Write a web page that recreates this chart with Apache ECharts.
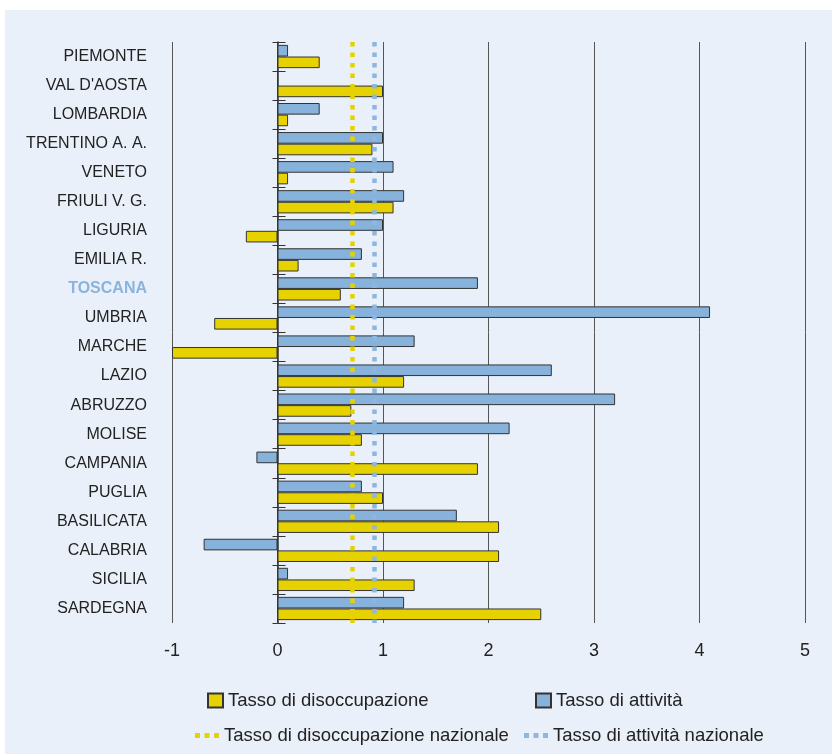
<!DOCTYPE html>
<html>
<head>
<meta charset="utf-8">
<script src="https://cdn.jsdelivr.net/npm/echarts@6/dist/echarts.min.js"></script>
<style>
  html, body { margin: 0; padding: 0; background: #fff; }
  #chart { position: absolute; left: 5px; top: 10px; width: 827px; height: 744px; }
</style>
</head>
<body>
<div id="chart"></div>
<script>
// regioni, dall'alto in basso
const regioni = ['PIEMONTE', "VAL D'AOSTA", 'LOMBARDIA', 'TRENTINO A. A.', 'VENETO', 'FRIULI V. G.',
  'LIGURIA', 'EMILIA R.', 'TOSCANA', 'UMBRIA', 'MARCHE', 'LAZIO', 'ABRUZZO', 'MOLISE',
  'CAMPANIA', 'PUGLIA', 'BASILICATA', 'CALABRIA', 'SICILIA', 'SARDEGNA']
const attivita = [0.1, 0, 0.4, 1.0, 1.1, 1.2, 1.0, 0.8, 1.9, 4.1, 1.3, 2.6, 3.2, 2.2, -0.2, 0.8, 1.7, -0.7, 0.1, 1.2]
const disoccupazione = [0.4, 1.0, 0.1, 0.9, 0.1, 1.1, -0.3, 0.2, 0.6, -0.6, -1.0, 1.2, 0.7, 0.8, 1.9, 1.0, 2.1, 2.1, 1.3, 2.5]
const disoccNazionale = 0.71
const attivitaNazionale = 0.92
const xTicks = [-1, 0, 1, 2, 3, 4, 5]

const FONT = "'Liberation Sans', Arial, sans-serif"
const GIALLO = '#e6d200'
const AZZURRO = '#86b2db'
const dotIcon = 'path://M0,0h5v5h-5z M9.5,0h5v5h-5z M19,0h5v5h-5z'

const GRID_LEFT = 167
const GRID_RIGHT = 27
const unitPx = (827 - GRID_LEFT - GRID_RIGHT) / (xTicks[xTicks.length - 1] - xTicks[0])

const chart = echarts.init(document.getElementById('chart'))

const legendBase = {
  orient: 'horizontal',
  itemGap: 0,
  textStyle: { fontFamily: FONT, fontSize: 18.5, color: '#222' }
}

chart.setOption({
  backgroundColor: '#eaf0f9',
  animation: false,
  grid: { left: GRID_LEFT, right: GRID_RIGHT, top: 32, bottom: 131 },
  legend: [
    Object.assign({}, legendBase, { left: 197, top: 676, icon: 'rect', itemWidth: 15, itemHeight: 14, data: ['Tasso di disoccupazione'] }),
    Object.assign({}, legendBase, { left: 525, top: 676, icon: 'rect', itemWidth: 15, itemHeight: 14, data: ['Tasso di attività'] }),
    Object.assign({}, legendBase, { left: 185, top: 711, icon: dotIcon, itemWidth: 24, itemHeight: 5, data: ['Tasso di disoccupazione nazionale'] }),
    Object.assign({}, legendBase, { left: 514, top: 711, icon: dotIcon, itemWidth: 24, itemHeight: 5, data: ['Tasso di attività nazionale'] })
  ],
  xAxis: {
    type: 'value',
    min: xTicks[0],
    max: xTicks[xTicks.length - 1],
    interval: 1,
    axisLine: { show: false },
    axisTick: { show: false },
    axisLabel: { fontFamily: FONT, fontSize: 18, color: '#222', margin: 19 },
    splitLine: { lineStyle: { color: '#555', width: 1 } }
  },
  yAxis: [
    {
      type: 'category',
      data: regioni,
      inverse: true,
      position: 'left',
      axisLine: { show: false, onZero: false },
      axisTick: { show: false },
      axisLabel: {
        fontFamily: FONT,
        fontSize: 16,
        color: '#222',
        margin: 25,
        formatter: v => v === 'TOSCANA' ? '{hl|' + v + '}' : v,
        rich: { hl: { fontFamily: FONT, fontSize: 16, fontWeight: 'bold', color: '#8ab4de' } }
      }
    },
    {
      // asse sullo zero, tacche verso destra
      type: 'category',
      data: regioni,
      inverse: true,
      position: 'left',
      axisLine: { show: true, onZero: true, lineStyle: { color: '#333', width: 1.5 } },
      axisTick: { show: true, inside: true, length: 8, lineStyle: { color: '#333' } },
      axisLabel: { show: false }
    },
    {
      // tacche verso sinistra, sempre sullo zero
      type: 'category',
      data: regioni,
      inverse: true,
      position: 'left',
      offset: xTicks[0] * unitPx,
      axisLine: { show: false, onZero: false },
      axisTick: { show: true, inside: false, length: 5, lineStyle: { color: '#333' } },
      axisLabel: { show: false }
    }
  ],
  series: [
    {
      name: 'Tasso di attività',
      type: 'bar',
      data: attivita,
      barGap: '0%',
      barCategoryGap: '20%',
      itemStyle: { color: AZZURRO, borderColor: '#333', borderWidth: 1 }
    },
    {
      name: 'Tasso di disoccupazione',
      type: 'bar',
      data: disoccupazione,
      itemStyle: { color: GIALLO, borderColor: '#333', borderWidth: 1 }
    },
    {
      name: 'Tasso di disoccupazione nazionale',
      type: 'line',
      data: [],
      itemStyle: { color: GIALLO },
      markLine: {
        silent: true,
        symbol: 'none',
        label: { show: false },
        lineStyle: { color: GIALLO, width: 4.5, type: [4.5, 6], cap: 'butt' },
        data: [{ xAxis: disoccNazionale }]
      }
    },
    {
      name: 'Tasso di attività nazionale',
      type: 'line',
      data: [],
      itemStyle: { color: '#8db7e0' },
      markLine: {
        silent: true,
        symbol: 'none',
        label: { show: false },
        lineStyle: { color: '#8db7e0', width: 4.5, type: [4.5, 6], cap: 'butt' },
        data: [{ xAxis: attivitaNazionale }]
      }
    }
  ]
})
</script>
</body>
</html>
